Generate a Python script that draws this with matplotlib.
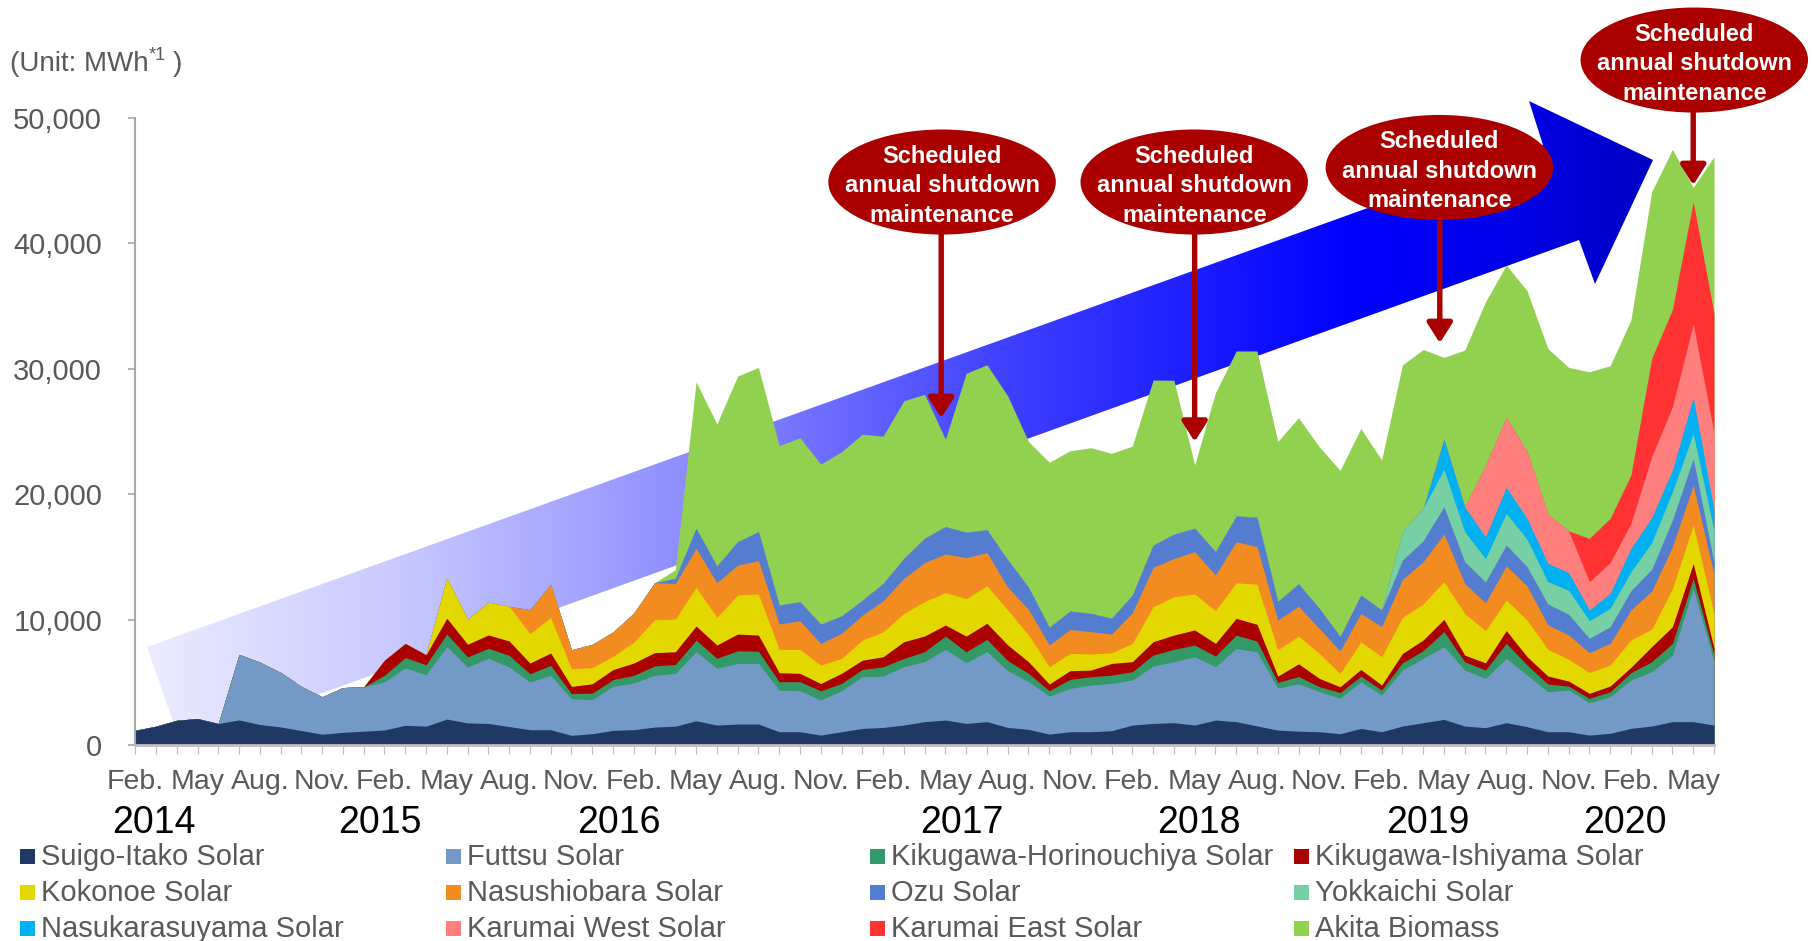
import numpy as np
import matplotlib
matplotlib.use('Agg')
import matplotlib.pyplot as plt
from matplotlib.patches import Polygon, Ellipse, Rectangle

plt.rcParams['font.family'] = ['Liberation Sans', 'DejaVu Sans']

# months Feb 2014 .. Jun 2020 (77 monthly points)
months = np.arange(77)
month_labels = ['Feb.', 'May', 'Aug.', 'Nov.'] * 6 + ['Feb.', 'May']
years = ['2014', '2015', '2016', '2017', '2018', '2019', '2020']
year_pos = [0.9, 11.8, 23.3, 39.8, 51.2, 62.2, 71.7]

names = ['Suigo-Itako Solar', 'Futtsu Solar', 'Kikugawa-Horinouchiya Solar', 'Kikugawa-Ishiyama Solar',
         'Kokonoe Solar', 'Nasushiobara Solar', 'Ozu Solar', 'Yokkaichi Solar',
         'Nasukarasuyama Solar', 'Karumai West Solar', 'Karumai East Solar', 'Akita Biomass']
colors = ['#1F3864', '#7399C6', '#339966', '#AA0000',
          '#E2D800', '#F28C20', '#557DCF', '#76D0A4',
          '#00B0F0', '#FF7F7F', '#FF3333', '#92D050']

# monthly generation, MWh
suigo = [1200, 1530, 2000, 2140, 1740, 2030, 1660, 1470, 1180, 890, 1040, 1130, 1230, 1600, 1530, 2100,
         1790, 1750, 1500, 1250, 1250, 800, 930, 1200, 1250, 1460, 1530, 1960, 1620, 1700, 1700, 1090,
         1090, 820, 1090, 1350, 1430, 1620, 1890, 2020, 1750, 1890, 1430, 1280, 900, 1090, 1090, 1170,
         1620, 1750, 1810, 1620, 2020, 1890, 1550, 1220, 1130, 1090, 930, 1350, 1090, 1540, 1810, 2070,
         1540, 1410, 1810, 1490, 1090, 1090, 820, 960, 1360, 1540, 1890, 1890, 1620]
futtsu = [0, 0, 0, 0, 0, 5220, 4970, 4340, 3500, 2980, 3570, 3530, 3830, 4580, 4090, 5780,
          4460, 5190, 4750, 3800, 4330, 2920, 2710, 3510, 3720, 4120, 4200, 5500, 4520, 4830, 4830, 3320,
          3270, 2790, 3270, 4120, 4090, 4650, 4780, 5630, 4830, 5580, 4520, 3800, 3030, 3450, 3720, 3770,
          3590, 4570, 4860, 5450, 4250, 5840, 5900, 3350, 3780, 3190, 2840, 3720, 2920, 4460, 5130, 5790,
          4460, 3930, 5130, 4120, 3190, 3320, 2580, 2920, 3850, 4330, 5310, 10600, 5080]
horinouchiya = [0] * 12 + [530, 820, 800, 1000, 800, 800, 930, 660, 800, 400, 530, 530, 610, 750, 720, 930,
                800, 1010, 980, 660, 720, 740, 580, 580, 740, 660, 800, 1060, 880, 980, 800, 660,
                430, 720, 660, 660, 660, 880, 980, 930, 850, 1060, 860, 450, 580, 400, 440, 450,
                400, 580, 610, 1200, 660, 660, 1200, 800, 610, 320, 350, 400, 580, 800, 930, 800, 500]
ishiyama = [0] * 12 + [1200, 1120, 800, 1250, 1010, 1060, 1140, 850, 980, 580, 740, 800, 980, 1060, 1010, 1120,
            1060, 1330, 1280, 720, 660, 580, 800, 740, 800, 1330, 1250, 880, 1250, 1280, 1250, 930,
            530, 690, 530, 930, 800, 1060, 1140, 1200, 1010, 1330, 1340, 500, 1010, 660, 460, 530,
            400, 740, 850, 980, 530, 580, 1010, 660, 640, 400, 400, 450, 430, 1200, 1330, 1200, 550]
kokonoe = [0] * 15 + [3200, 2000, 2600, 2760, 2340, 2820, 1410, 1280, 1060, 1670, 2620, 2600, 3080, 2200,
           3110, 3270, 1860, 1910, 1460, 1200, 1590, 1990, 2260, 2740, 2580, 2980, 2980, 2790, 2130,
           1380, 1380, 1280, 850, 1460, 2790, 3050, 2870, 2600, 2840, 3190, 2100, 2200, 1990, 1060,
           2200, 2260, 2870, 2870, 3000, 3320, 2550, 2440, 2920, 2130, 1730, 1650, 1670, 2180, 1380,
           3050, 3050, 2750]
nasushiobara = [0] * 19 + [1910, 2660, 1510, 1860, 1940, 2310, 2950, 2840, 3110, 2760, 2390, 2660, 2020,
                2280, 1730, 1990, 1990, 2470, 2790, 3110, 3080, 3270, 2660, 1810, 2050, 1730, 1910,
                1780, 1490, 2440, 3130, 3050, 3370, 2840, 3270, 3000, 2360, 2390, 1990, 1790, 2260,
                2390, 3030, 3370, 3800, 2390, 2230, 2710, 2710, 1940, 1940, 1590, 1730, 2390, 3050,
                3320, 3190, 3100]
ozu = [0] * 26 + [400, 1590, 1330, 1860, 2310, 1510, 1510, 1540, 1380, 1200, 1380, 1590, 1940, 2180,
       2020, 1810, 2180, 1750, 1410, 1460, 1460, 1250, 1410, 1780, 1940, 1860, 1860, 2050, 2340, 1490,
       1780, 1590, 1150, 1460, 1330, 1540, 1670, 2180, 1730, 1670, 1670, 1540, 1670, 1650, 1140, 1330,
       1540, 1730, 2130, 2130, 1000]
yokkaichi = [0] * 61 + [2260, 2580, 2980, 2390, 1860, 2520, 2180, 1780, 1910, 1410, 1460, 1510, 2130,
             2260, 1990, 2500]
nasukarasuyama = [0] * 63 + [2390, 1990, 1730, 2070, 1670, 1460, 1410, 850, 1200, 1860, 1990, 1730, 2870, 1700]
karumai_west = [0] * 65 + [5660, 5580, 5310, 3930, 3320, 2260, 2440, 1990, 4850, 5050, 5850, 6100]
karumai_east = [0] * 70 + [3450, 3530, 3850, 7840, 7740, 9750, 9500]
akita = [0] * 26 + [700, 11690, 11320, 13200, 13090, 12700, 13070, 12750, 13090, 13230, 11740, 12560,
         11470, 6960, 12670, 13150, 13070, 11610, 13150, 12780, 13200, 13150, 11870, 13150, 12270, 5050,
         12670, 13150, 13250, 12750, 13240, 12880, 13250, 13280, 11950, 13290, 12660, 6530, 12490, 13070,
         12130, 12830, 13190, 13030, 13270, 12160, 12350, 13280, 12750, 1140, 12500]

series = [suigo, futtsu, horinouchiya, ishiyama, kokonoe, nasushiobara, ozu, yokkaichi,
          nasukarasuyama, karumai_west, karumai_east, akita]

# maintenance callouts: (month index, value at ellipse centre), arrow start/end values
callouts = [(38.84, 44890), (50.98, 44890), (62.78, 46050), (75.05, 54610)]
arrows = [(38.8, 40670, 26090), (51.0, 40670, 24200), (62.8, 41860, 32060), (75.0, 50410, 44650)]

W, H = 1812, 941
fig = plt.figure(figsize=(W / 100, H / 100), dpi=100)


def fx(px):
    return px / W


def fy(py):
    return 1 - py / H


# big gradient arrow in the background (pixel coordinates)
bg = fig.add_axes([0, 0, 1, 1], zorder=0)
bg.axis('off')
arrow_pts = [(147, 647), (1543, 145), (1529, 101), (1653, 160), (1595, 284), (1579, 240), (181, 744)]
poly = Polygon(arrow_pts, closed=True, facecolor='none', edgecolor='none')
bg.add_patch(poly)
gx = np.linspace(140, 1660, 800)
stop_x = [147, 400, 600, 800, 1000, 1200, 1350, 1500, 1653]
stop_rg = [235, 200, 160, 115, 65, 28, 0, 0, 0]
stop_b = [255, 255, 255, 255, 255, 255, 255, 235, 195]
rg = np.interp(gx, stop_x, stop_rg) / 255
bb = np.interp(gx, stop_x, stop_b) / 255
img = np.stack([rg, rg, bb], axis=-1)[None, :, :]
im = bg.imshow(img, extent=[140, 1660, 760, 90], aspect='auto', interpolation='bilinear')
im.set_clip_path(poly)
bg.set_xlim(0, W)
bg.set_ylim(H, 0)

# main chart
ax = fig.add_axes([fx(135.2), fy(745.4), (1714 - 135.2) / W, (745.4 - 117.9) / H], zorder=1)
ax.patch.set_alpha(0)

stack = np.array(series, dtype=float)
cum = np.cumsum(stack, axis=0)
for k in range(len(series) - 1, -1, -1):
    ax.fill_between(months, 0, cum[k], color=colors[k], linewidth=0)

ax.set_xlim(0, 76)
ax.set_ylim(0, 50000)
for s in ['top', 'right']:
    ax.spines[s].set_visible(False)
ax.spines['left'].set_color('#A6A6A6')
ax.spines['left'].set_linewidth(1.5)
ax.spines['bottom'].set_color('#BFBFBF')
ax.spines['bottom'].set_linewidth(2)

ax.set_yticks(range(0, 50001, 10000))
ax.set_yticklabels(['{:,}'.format(v) for v in range(0, 50001, 10000)])
ax.tick_params(axis='y', length=4.8, width=1.2, color='#A6A6A6', labelsize=21,
               labelcolor='#595959', pad=19)
ax.set_xticks(np.arange(0, 76, 3))
ax.set_xticklabels(month_labels)
ax.set_xticks(months, minor=True)
ax.tick_params(axis='x', which='both', length=6.5, width=0.9, color='#BFBFBF')
ax.tick_params(axis='x', which='major', labelsize=20.5, labelcolor='#595959', pad=10.5)

for yr, pos in zip(years, year_pos):
    ax.text(pos, -0.1235, yr, transform=ax.get_xaxis_transform(), ha='center', va='center',
            fontsize=27, color='black')

# maintenance callouts
lines = ['Scheduled', 'annual shutdown', 'maintenance']
for cx, cy in callouts:
    ax.add_patch(Ellipse((cx, cy), 10.95, 8370, facecolor='#AA0000', edgecolor='none',
                         clip_on=False, zorder=5))
    for j, t in enumerate(lines):
        ax.text(cx, cy - 300 + (1 - j) * 2330, t, ha='center', va='center', color='white',
                fontsize=17, fontweight='bold', zorder=6, clip_on=False)
for x, y0, y1 in arrows:
    ax.annotate('', xy=(x, y1), xytext=(x, y0), annotation_clip=False, zorder=5,
                arrowprops=dict(arrowstyle='-|>,head_length=0.6,head_width=0.38', color='#AA0000',
                                lw=3.9, mutation_scale=20, shrinkA=0, shrinkB=0))

# unit label
fig.text(fx(10), fy(71), '(Unit: MWh', fontsize=20, color='#595959', va='baseline')
fig.text(fx(149), fy(60), '*1', fontsize=13, color='#595959', va='baseline')
fig.text(fx(173), fy(71), ')', fontsize=20, color='#595959', va='baseline')

# legend, 4 columns x 3 rows
cols_x = [20, 446, 870, 1294]
rows_y = [865, 901, 937]
for k, (name, col) in enumerate(zip(names, colors)):
    x = cols_x[k % 4]
    y = rows_y[k // 4]
    fig.patches.append(Rectangle((fx(x), fy(y - 1)), 15 / W, 15 / H, transform=fig.transFigure,
                                 facecolor=col, edgecolor='none', figure=fig))
    fig.text(fx(x + 21), fy(y), name, fontsize=21, color='#595959', va='baseline', ha='left')

fig.savefig('out.png', dpi=100)
